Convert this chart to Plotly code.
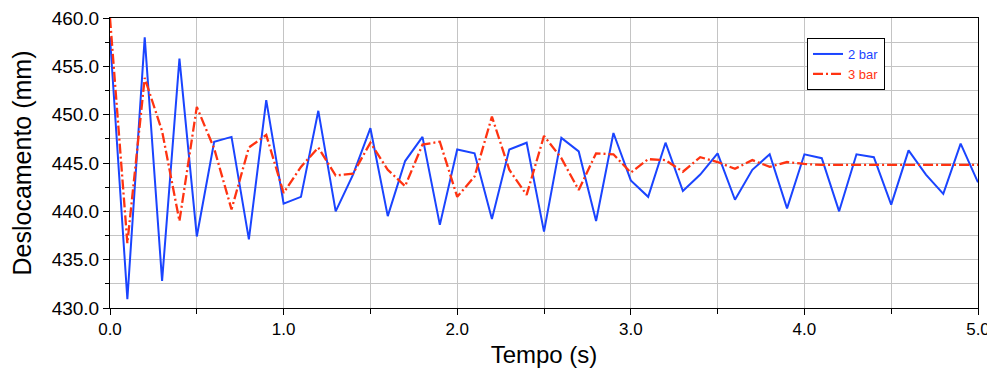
import plotly.graph_objects as go

time_s = [round(0.1 * k, 1) for k in range(51)]

bar2 = [458.0, 430.9, 458.0, 432.8, 455.8, 437.4, 447.2, 447.7, 437.1, 451.5,
        440.8, 441.5, 450.4, 440.0, 443.8, 448.6, 439.5, 445.2, 447.7, 438.6,
        446.4, 446.0, 439.2, 446.4, 447.1, 437.9, 447.6, 446.2, 439.0, 448.1,
        443.2, 441.5, 447.1, 442.1, 443.8, 446.0, 441.2, 444.3, 445.9, 440.3,
        445.9, 445.5, 440.0, 445.9, 445.6, 440.7, 446.3, 443.8, 441.8, 447.0,
        443.0]

bar3 = [460.0, 436.7, 453.8, 448.3, 439.0, 450.8, 446.5, 440.2, 446.6, 447.9,
        441.9, 444.6, 446.6, 443.7, 443.9, 447.1, 444.3, 442.6, 446.9, 447.2,
        441.5, 443.6, 449.8, 444.3, 441.7, 447.8, 445.5, 442.2, 446.0, 445.9,
        444.0, 445.4, 445.3, 444.1, 445.6, 445.1, 444.4, 445.3, 444.6, 445.1,
        444.9, 444.8, 444.8, 444.8, 444.8, 444.8, 444.8, 444.8, 444.8, 444.8,
        444.8]

series_names = ["2 bar", "3 bar"]
BLUE = "#1a44ff"
RED = "#ff3311"

fig = go.Figure()
fig.add_trace(go.Scatter(
    x=time_s, y=bar2, mode="lines",
    name=f"<span style='color:{BLUE}'>{series_names[0]}</span>",
    line=dict(color=BLUE, width=2)))
fig.add_trace(go.Scatter(
    x=time_s, y=bar3, mode="lines",
    name=f"<span style='color:{RED}'>{series_names[1]}</span>",
    line=dict(color=RED, width=2.3, dash="10px,3px,2px,3px")))

font_main = "Liberation Sans, Arial, sans-serif"

# page body adds an 8px offset; size the figure so the plot area lands at x 110-978, y 18-308
fig.update_layout(
    width=987, height=367,
    margin=dict(l=102, r=17, t=10, b=67),
    paper_bgcolor="white", plot_bgcolor="white",
    font=dict(family=font_main, color="black"),
    showlegend=True,
    legend=dict(x=0.803, y=0.931, xanchor="left", yanchor="top",
                bgcolor="white", bordercolor="black", borderwidth=1,
                font=dict(size=13, family=font_main),
                itemwidth=30, tracegroupgap=0),
    xaxis=dict(range=[0, 5], dtick=1, tickformat=".1f", automargin=False,
               ticklabeloverflow="allow",
               showline=True, linecolor="black", linewidth=1, mirror=True,
               ticks="outside", ticklen=6, tickcolor="black",
               showgrid=True, gridcolor="#c4c4c4", gridwidth=1,
               minor=dict(dtick=0.5, showgrid=True, gridcolor="#c4c4c4",
                          ticks="outside", ticklen=5, tickcolor="black"),
               tickfont=dict(size=17),
               title=dict(text="Tempo (s)", font=dict(size=24), standoff=7),
               zeroline=False),
    yaxis=dict(range=[430, 460], dtick=5, tickformat=".1f", automargin=False,
               ticklabeloverflow="allow",
               showline=True, linecolor="black", linewidth=1, mirror=True,
               ticks="outside", ticklen=6, tickcolor="black",
               showgrid=True, gridcolor="#c4c4c4", gridwidth=1,
               minor=dict(dtick=2.5, showgrid=True, gridcolor="#c4c4c4",
                          ticks="outside", ticklen=4, tickcolor="black"),
               tickfont=dict(size=19),
               title=dict(text="Deslocamento (mm)", font=dict(size=25), standoff=12),
               zeroline=False),
)

fig.write_html("out.html")
